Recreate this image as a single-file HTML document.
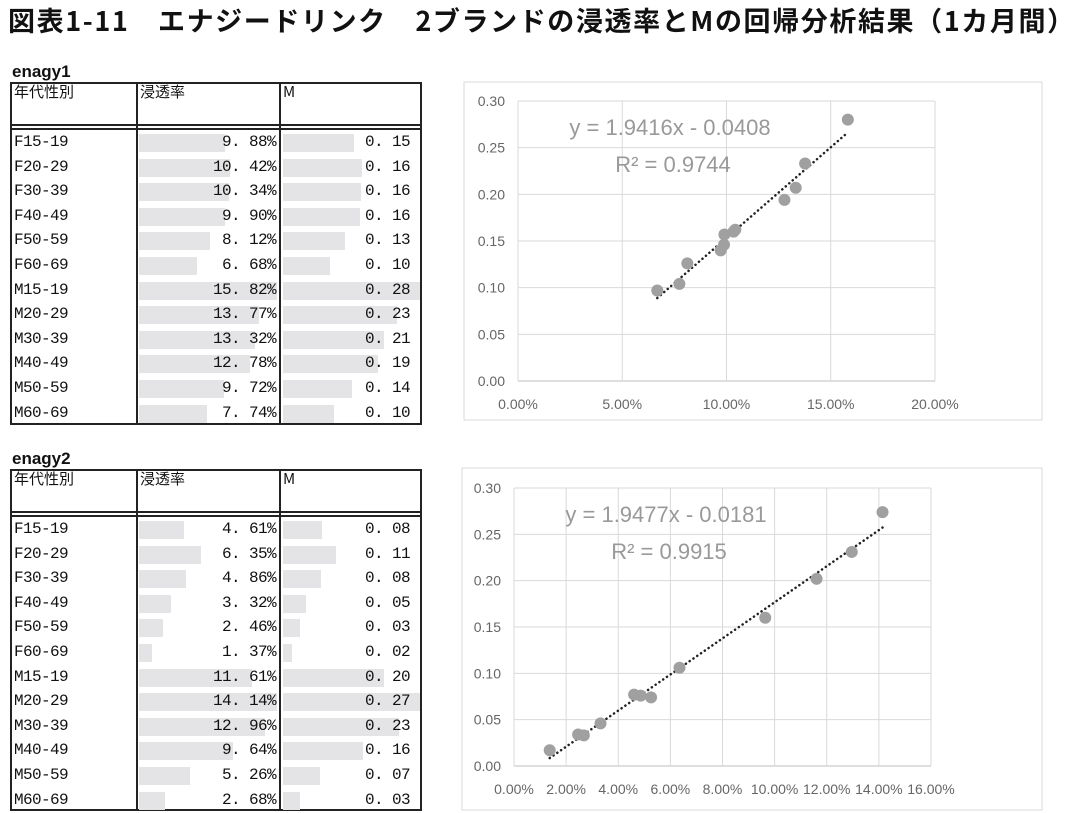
<!DOCTYPE html>
<html><head><meta charset="utf-8">
<style>
body{margin:0;background:#fff;width:1065px;height:813px;overflow:hidden;position:relative;font-family:"Liberation Sans","Noto Sans CJK JP",sans-serif}
.abs{position:absolute}
.title{left:8px;top:0px;font-size:27px;font-weight:bold;color:#111;white-space:nowrap;letter-spacing:1.6px;font-family:"Noto Sans CJK JP",sans-serif}
.lbl{font-size:17px;font-weight:bold;color:#111}
.tbl{border:2px solid #222;box-sizing:border-box}
.cell{position:absolute;font-family:"Liberation Mono","IPAGothic",monospace;font-size:16px;color:#111;white-space:nowrap;letter-spacing:-0.6px}
.bar{position:absolute;background:#e4e4e6;height:18px}
</style></head><body>
<div class="abs title">図表1-11　エナジードリンク　2ブランドの浸透率とMの回帰分析結果（1カ月間）</div>
<div id="root"></div>
<script>
const ages=["F15-19","F20-29","F30-39","F40-49","F50-59","F60-69","M15-19","M20-29","M30-39","M40-49","M50-59","M60-69"];
const pen1=[9.88,10.42,10.34,9.90,8.12,6.68,15.82,13.77,13.32,12.78,9.72,7.74];
const m1=[0.146,0.162,0.160,0.157,0.126,0.097,0.280,0.233,0.207,0.194,0.140,0.104];
const pen2=[4.61,6.35,4.86,3.32,2.46,1.37,11.61,14.14,12.96,9.64,5.26,2.68];
const m2=[0.077,0.106,0.076,0.046,0.034,0.017,0.202,0.274,0.231,0.160,0.074,0.033];
const xTicks1=[0,5,10,15,20];
const xTicks2=[0,2,4,6,8,10,12,14,16];
const yTicks=[0,0.05,0.10,0.15,0.20,0.25,0.30];
const fit1=[1.9416,-0.0408,0.9744];
const fit2=[1.9477,-0.0181,0.9915];

const root=document.getElementById('root');
function el(tag,cls,style,txt){const e=document.createElement(tag);if(cls)e.className=cls;e.style.cssText=style;if(txt!=null)e.textContent=txt;return e;}

function table(name,top,pen,m,pmax,mmax){
  const lab=el('div','abs lbl','left:12px;top:'+(top-20)+'px',name);
  
  
  root.appendChild(lab);
  const t=el('div','abs tbl','left:10px;top:'+top+'px;width:412px;height:'+(top<200?343:342)+'px');
  
  
  root.appendChild(t);
  [124,267].forEach(x=>{const l=el('div','','position:absolute;left:'+x+'px;top:0;bottom:0;width:2px;background:#222');t.appendChild(l);});
  const d=el('div','','position:absolute;left:0;right:0;top:40px;height:2px;border-top:2px solid #222;border-bottom:2px solid #222');t.appendChild(d);
  const hs=["年代性別","浸透率","M"],hx=[2,128,271];
  hs.forEach((h,i)=>{const c=el('div','cell','left:'+hx[i]+'px;top:-3px;font-family:"Noto Sans CJK JP",sans-serif;font-size:15px;letter-spacing:0',h);
    
    t.appendChild(c);});
  ages.forEach((a,i)=>{
    const y=49+i*24.6;
    const c=el('div','cell','left:2px;top:'+(y)+'px',a);
    
    t.appendChild(c);
    const b=el('div','bar','left:127px;top:'+(y+1)+'px;width:'+(pen[i]/pmax*138)+'px');
    
    t.appendChild(b);
    const v=el('div','cell','right:144px;top:'+y+'px',pen[i].toFixed(2).replace('.','. ')+'%');
    
    t.appendChild(v);
    const b2=el('div','bar','left:271px;top:'+(y+1)+'px;width:'+Math.min(137,m[i]/mmax*137)+'px');
    
    t.appendChild(b2);
    const v2=el('div','cell','right:10px;top:'+y+'px',m[i].toFixed(2).replace('.','. '));
    
    t.appendChild(v2);
  });
}
table('enagy1',82,pen1,m1,15.82,0.28);
table('enagy2',469,pen2,m2,14.14,0.274);

const NS='http://www.w3.org/2000/svg';
function sv(tag,attrs,txt){const e=document.createElementNS(NS,tag);for(const k in attrs)e.setAttribute(k,attrs[k]);if(txt!=null)e.textContent=txt;return e;}
function chart(name,box,plot,xt,xs,ys,fit){
  const s=sv('svg',{width:1065,height:813,style:'position:absolute;left:0;top:0'});
  
  
  root.appendChild(s);
  const fr=sv('rect',{x:box[0],y:box[1],width:box[2]-box[0],height:box[3]-box[1],fill:'none',stroke:'#d9d9d9'});
  
  s.appendChild(fr);
  const xmax=xt[xt.length-1];
  const X=v=>plot[0]+v/xmax*(plot[2]-plot[0]);
  const Y=v=>plot[3]-v/0.30*(plot[3]-plot[1]);
  yTicks.forEach(t=>{
    const l=sv('line',{x1:plot[0],x2:plot[2],y1:Y(t),y2:Y(t),stroke:t==0?'#bfbfbf':'#d9d9d9'});
    
    s.appendChild(l);
    const tx=sv('text',{x:plot[0]-13,y:Y(t)+5,'text-anchor':'end','font-size':14,fill:'#666','font-family':'Liberation Sans'},t.toFixed(2));
    
    s.appendChild(tx);
  });
  xt.forEach(t=>{
    const l=sv('line',{x1:X(t),x2:X(t),y1:plot[1],y2:plot[3],stroke:'#d9d9d9'});
    
    s.appendChild(l);
    const tx=sv('text',{x:X(t),y:plot[3]+28,'text-anchor':'middle','font-size':14,fill:'#666','font-family':'Liberation Sans'},t.toFixed(2)+'%');
    
    s.appendChild(tx);
  });
  const mn=Math.min(...xs),mx=Math.max(...xs);
  const tl=sv('line',{x1:X(mn),y1:Y(fit[0]*mn/100+fit[1]),x2:X(mx),y2:Y(fit[0]*mx/100+fit[1]),stroke:'#222','stroke-width':2.5,'stroke-dasharray':'0.1 4.5','stroke-linecap':'round'});
  
  s.appendChild(tl);
  xs.forEach((v,i)=>{
    const c=sv('circle',{cx:X(v),cy:Y(ys[i]),r:6,fill:'#a0a0a0'});
    
    s.appendChild(c);
  });
  const eq=sv('text',{x:plot[0]+152,y:plot[1]+34,'text-anchor':'middle','font-size':22,fill:'#999','font-family':'Liberation Sans'},'y = '+fit[0].toFixed(4)+'x - '+Math.abs(fit[1]).toFixed(4));
  
  s.appendChild(eq);
  const r2=sv('text',{x:plot[0]+155,y:plot[1]+71,'text-anchor':'middle','font-size':22,fill:'#999','font-family':'Liberation Sans'},'R² = '+fit[2].toFixed(4));
  
  s.appendChild(r2);
}
chart('enagy1-scatter',[464,82,1042,420],[518,101,935,381],xTicks1,pen1,m1,fit1);
chart('enagy2-scatter',[462,468,1042,810],[514,488,931,766],xTicks2,pen2,m2,fit2);
</script>
</body></html>
